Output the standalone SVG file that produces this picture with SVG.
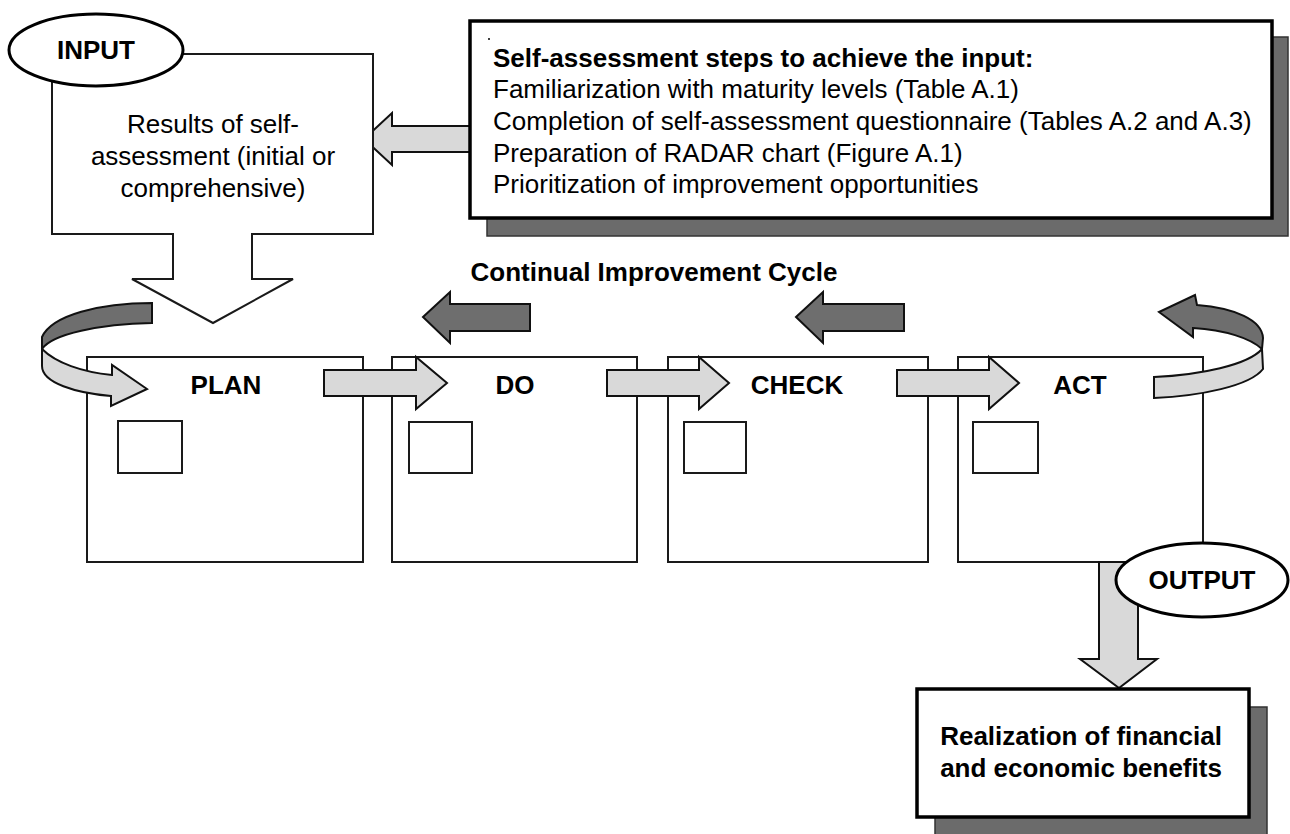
<svg xmlns="http://www.w3.org/2000/svg" width="1290" height="834" viewBox="0 0 1290 834">
<style>
  text { font-family: "Liberation Sans", Arial, sans-serif; fill: #000; }
  .b { font-weight: bold; font-size: 26px; }
  .r { font-size: 26px; }
  .c { text-anchor: middle; }
  .box { fill: #fff; stroke: #1a1a1a; stroke-width: 2; }
  .thick { fill: #fff; stroke: #000; stroke-width: 3.5; }
  .shadow { fill: #6b6b6b; stroke: #333; stroke-width: 1.5; }
  .light { fill: #d9d9d9; stroke: #111; stroke-width: 2; stroke-linejoin: miter; }
  .dark { fill: #6e6e6e; stroke: #111; stroke-width: 2; stroke-linejoin: miter; }
  .oval { fill: #fff; stroke: #000; stroke-width: 3; }
</style>
<rect width="1290" height="834" fill="#fff"/>

<!-- PDCA boxes -->
<g id="plan">
  <rect class="box" x="87" y="357" width="276" height="205"/>
  <rect class="box" x="118" y="421" width="64" height="52"/>
  <text class="b c" x="226" y="394">PLAN</text>
</g>
<g id="do">
  <rect class="box" x="392" y="357" width="245" height="205"/>
  <rect class="box" x="409" y="422" width="63" height="51"/>
  <text class="b c" x="515" y="394">DO</text>
</g>
<g id="check">
  <rect class="box" x="668" y="357" width="260" height="205"/>
  <rect class="box" x="684" y="422" width="62" height="51"/>
  <text class="b c" x="797" y="394">CHECK</text>
</g>
<g id="act">
  <rect class="box" x="958" y="357" width="245" height="205"/>
  <rect class="box" x="973" y="422" width="65" height="51"/>
  <text class="b c" x="1080" y="394">ACT</text>
</g>

<!-- connectors -->
<g id="connectors">
  <!-- from self-assessment box to input -->
  <path class="light" d="M364,139 L392,113 L392,126 L472,126 L472,152 L392,152 L392,165 Z"/>
  <!-- step arrows -->
  <path class="light" d="M324,370 H416 V357 L447,383 L416,409 V396 H324 Z"/>
  <path class="light" d="M607,370 H699 V357 L729,383 L699,409 V396 H607 Z"/>
  <path class="light" d="M897,370 H989 V357 L1019,383 L989,409 V396 H897 Z"/>
  <!-- backward dark arrows -->
  <path class="dark" d="M423,317 L450,292 V304 H530 V331 H450 V343 Z"/>
  <path class="dark" d="M796,317 L823,292 V304 H904 V331 H823 V343 Z"/>
  <!-- left curved arrow -->
  <path class="dark" d="M152,303 C100,303 52,315 42,337 L42,349 C52,334 100,324 152,323 Z"/>
  <path class="light" d="M42,349 C56,363 82,372 112,375 L112,365 L147,389 L111,406 L111,396 C76,393 42,383 42,366 Z"/>
  <!-- right curved arrow -->
  <path class="dark" d="M1263,338 C1262,320 1235,308 1197,305 L1195,295 L1159,312 L1193,337 L1193,328 C1225,330 1250,338 1262,349 Z"/>
  <path class="light" d="M1154,377 C1200,375 1248,365 1262,349 L1263,369 C1250,386 1200,396 1154,398 Z"/>
  <!-- output arrow -->
  <path class="light" d="M1099,562 V659 H1080 L1119,688 L1157,659 H1138 V562 Z"/>
</g>

<g id="input-results">
  <path class="box" d="M52,54 H373 V234 H252 V279 H293 L213,323 L132,279 H173 V234 H52 Z"/>
  <text class="r c" x="213" y="133">Results of self-</text>
  <text class="r c" x="213" y="165">assessment (initial or</text>
  <text class="r c" x="213" y="197">comprehensive)</text>
</g>

<g id="input">
  <ellipse class="oval" cx="96" cy="50" rx="87" ry="36"/>
  <text class="b c" x="96" y="59">INPUT</text>
</g>

<g id="steps">
  <rect class="shadow" x="487" y="37" width="801" height="199"/>
  <rect class="thick" x="470" y="21" width="802" height="197"/>
  <circle cx="489" cy="39" r="1" fill="#000"/>
  <text class="b" x="493" y="67">Self-assessment steps to achieve the input:</text>
  <text class="r" x="493" y="98">Familiarization with maturity levels (Table A.1)</text>
  <text class="r" x="493" y="130">Completion of self-assessment questionnaire (Tables A.2 and A.3)</text>
  <text class="r" x="493" y="162">Preparation of RADAR chart (Figure A.1)</text>
  <text class="r" x="493" y="193">Prioritization of improvement opportunities</text>
</g>

<g id="cycle-title">
  <text class="b c" x="654" y="281">Continual Improvement Cycle</text>
</g>

<g id="output">
  <ellipse class="oval" cx="1202" cy="580" rx="86" ry="37"/>
  <text class="b c" x="1202" y="589">OUTPUT</text>
</g>

<g id="benefits">
  <rect class="shadow" x="935" y="707" width="332" height="140"/>
  <rect class="thick" x="917" y="689" width="332" height="128"/>
  <text class="b c" x="1081" y="745">Realization of financial</text>
  <text class="b c" x="1081" y="777">and economic benefits</text>
</g>
</svg>
